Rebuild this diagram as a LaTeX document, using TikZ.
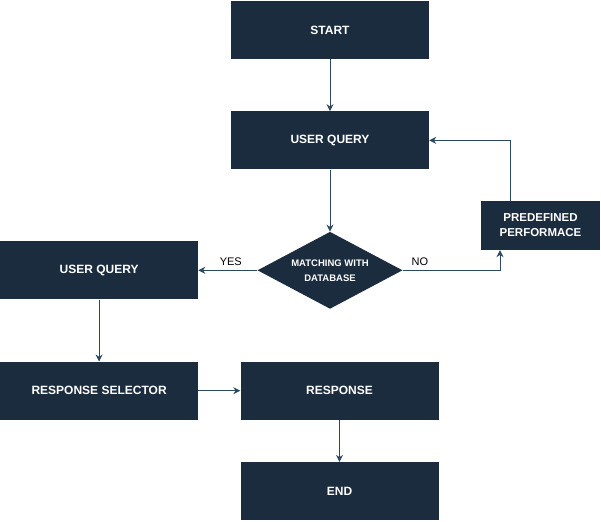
\documentclass[tikz,border=0pt]{standalone}
\usepackage{fontspec}
\setmainfont{Liberation Sans}
\usetikzlibrary{positioning,shapes.geometric,arrows.meta}
\definecolor{boxfill}{HTML}{1B2C3E}
\definecolor{linecol}{HTML}{2A4862}

\begin{document}
\begin{tikzpicture}[x=1pt,y=1pt]
	\tikzset{
	    stepbox/.style={fill=boxfill, text=white, minimum width=198pt, minimum height=58pt,
	        inner sep=2pt, font=\fontsize{12}{15}\selectfont\bfseries, align=center},
	    decision/.style={diamond, fill=boxfill, text=white, aspect=1.88, minimum width=145pt,
	        minimum height=77pt, inner sep=0pt, font=\fontsize{9.5}{15}\selectfont\bfseries, align=center},
	    flow/.style={draw=linecol, line width=0.8pt, -{Stealth[length=7pt,width=7pt]}},
	    lbl/.style={font=\fontsize{11}{12}\selectfont, text=black}
	}
	\useasboundingbox (0,0) rectangle (601,-521);

	\node[stepbox] (start) at (330,-30) {START};
	\node[stepbox, below=52pt of start] (query) {USER QUERY};
	\node[decision, below=62pt of query] (match) {MATCHING WITH\\DATABASE};
	\node[stepbox, left=59pt of match] (userq) {USER QUERY};
	\node[stepbox, minimum width=119pt, minimum height=49pt, font=\fontsize{11.5}{15}\selectfont\bfseries] (predef) at (540.5,-225.5) {PREDEFINED\\PERFORMACE};
	\node[stepbox, below=62pt of userq] (select) {RESPONSE SELECTOR};
	\node[stepbox, right=42pt of select] (resp) {RESPONSE};
	\node[stepbox, below=42pt of resp] (end) {END};

	\draw[flow] (start) -- (query);
	\draw[flow] (query) -- (match);
	\draw[flow] (match) -- node[lbl, above=1pt, xshift=3pt] {YES} (userq);
	\draw[flow] (match.east) -| node[lbl, pos=0.088, above=1pt] {NO} ([xshift=-40.5pt]predef.south);
	\draw[flow] ([xshift=-30.5pt]predef.north) |- (query.east);
	\draw[flow] (userq) -- (select);
	\draw[flow] (select) -- (resp);
	\draw[flow] (resp) -- (end);
\end{tikzpicture}
\end{document}
